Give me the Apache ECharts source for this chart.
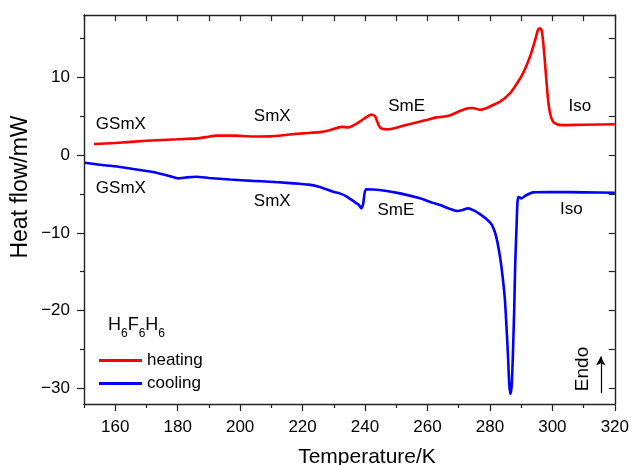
<!DOCTYPE html>
<html>
<head>
<meta charset="utf-8">
<script src="https://cdn.jsdelivr.net/npm/echarts@6/dist/echarts.min.js"></script>
<style>
  html, body { margin: 0; padding: 0; background: #fff; }
  #chart { width: 632px; height: 465px; }
</style>
</head>
<body>
<div id="chart"></div>
<script>
const FONT = "'Liberation Sans', Arial, Helvetica, sans-serif";

// DSC trace on heating (temperature in K, heat flow in mW)
const heatingT = [153.2, 160, 170, 180, 186, 189, 192.5, 198, 204, 209.5, 215, 220, 225.5, 228.7,
  232.5, 234.6, 238.3, 240.5, 242, 243.2, 244.2, 245, 247, 250, 254.4, 259.7, 262.9, 265, 267.5,
  270.4, 273, 274.5, 276.8, 279, 281, 283.2, 286.4, 288.5, 290.6, 292.8, 294.5, 295.4, 296.0,
  296.6, 297.3, 297.9, 298.6, 299.3, 300.2, 301.5, 303, 310, 320];
const heatingQ = [1.41, 1.55, 1.84, 2.02, 2.14, 2.3, 2.5, 2.5, 2.38, 2.4, 2.6, 2.79, 2.95, 3.2,
  3.62, 3.56, 4.28, 4.9, 5.2, 5.0, 4.0, 3.45, 3.3, 3.5, 4.0, 4.5, 4.84, 4.92, 5.15,
  5.65, 6.0, 6.05, 5.82, 6.05, 6.43, 6.85, 7.93, 9.1, 10.5, 12.6, 14.8, 16.1, 16.3,
  16.0, 13.5, 10.5, 7.2, 5.3, 4.3, 3.95, 3.85, 3.9, 3.95];

// DSC trace on cooling
const coolingT = [150.3, 155, 160, 165.8, 170, 173.5, 177, 180.2, 182.9, 186, 190, 196.7, 204, 209.5,
  215, 219.1, 222, 225.5, 229.8, 231.9, 234, 236.2, 238.0, 238.8, 239.4, 240.3, 244.7, 251.2,
  257.6, 261.8, 264, 267, 269.5, 271, 273, 275, 276.8, 278.8, 280.5, 281.5, 282.3, 283.2, 283.7,
  284.3, 284.8, 285.3, 285.8, 286.2, 286.6, 287.0, 287.4, 287.8, 288.1, 288.5, 288.8, 289.1,
  290.1, 291.5, 293.8, 300, 310, 320];
const coolingQ = [-0.99, -1.25, -1.45, -1.80, -2.05, -2.3, -2.65, -3.0, -2.87, -2.79, -2.95, -3.15, -3.32, -3.43,
  -3.58, -3.7, -3.8, -4.1, -4.71, -4.93, -5.3, -5.9, -6.4, -6.85, -6.3, -4.4, -4.5, -4.93,
  -5.57, -6.15, -6.43, -6.9, -7.2, -7.1, -6.85, -7.15, -7.6, -8.2, -8.9, -9.8, -11, -13, -14.4,
  -16.5, -18.6, -22, -25.9, -29.5, -30.7, -29.5, -25.1, -19.5, -14, -9.5, -6.2, -5.4,
  -5.57, -5.2, -4.8, -4.75, -4.8, -4.85];

// Phase names written beside the traces
const phaseNames = ['GSmX', 'SmX', 'SmE', 'Iso', 'GSmX', 'SmX', 'SmE', 'Iso'];
const phaseT = [161.8, 210.3, 253.3, 308.8, 161.8, 210.3, 249.9, 306.1];
const phaseQ = [3.95, 4.97, 6.26, 6.26, -4.3, -5.98, -7.1, -6.97];

// "Endo" direction marker: label position and arrow from / to
const endoT = 309.7;
const endoQ = -27.5;
const arrowT = 315.5;
const arrowFromQ = -30.6;
const arrowToQ = -25.9;

// Axis ticks
const xLabelTicks = [160, 180, 200, 220, 240, 260, 280, 300, 320];
const xMinorTicks = [150, 170, 190, 210, 230, 250, 270, 290, 310];
const xAllTicks = [150, 160, 170, 180, 190, 200, 210, 220, 230, 240, 250, 260, 270, 280, 290, 300, 310, 320];
const yLabelTicks = [-30, -20, -10, 0, 10];
const yMinorTicks = [-25, -15, -5, 5, 15];
const yAllTicks = [-30, -25, -20, -15, -10, -5, 0, 5, 10, 15];

const zip = (a, b) => a.map((t, i) => [t, b[i]]);
const minus = v => (v < 0 ? '\u2212' + Math.abs(v) : String(v));

const AX = '#222';
const axisLine = { show: true, onZero: false, lineStyle: { color: AX, width: 1.4 } };
const hiddenLine = { show: false, onZero: false };

const chart = echarts.init(document.getElementById('chart'));
chart.setOption({
  backgroundColor: '#fff',
  animation: false,
  textStyle: { fontFamily: FONT },
  grid: { left: 84, right: 17, top: 15, bottom: 61, containLabel: false },
  xAxis: [
    {
      type: 'value', min: 150, max: 320, position: 'bottom',
      axisLine: axisLine,
      axisTick: { show: true, customValues: xLabelTicks, length: 7, lineStyle: { color: AX, width: 1.2 } },
      axisLabel: { customValues: xLabelTicks, fontSize: 17, color: '#000', fontFamily: FONT, margin: 15 },
      splitLine: { show: false }
    },
    {
      type: 'value', min: 150, max: 320, position: 'bottom',
      axisLine: hiddenLine,
      axisTick: { show: true, customValues: xMinorTicks, length: 4, lineStyle: { color: AX, width: 1.2 } },
      axisLabel: { show: false },
      splitLine: { show: false }
    },
    {
      type: 'value', min: 150, max: 320, position: 'top',
      axisLine: axisLine,
      axisTick: { show: true, inside: true, customValues: xAllTicks, length: 6, lineStyle: { color: AX, width: 1.2 } },
      axisLabel: { show: false },
      splitLine: { show: false }
    }
  ],
  yAxis: [
    {
      type: 'value', min: -32, max: 18, position: 'left',
      axisLine: axisLine,
      axisTick: { show: true, customValues: yLabelTicks, length: 7, lineStyle: { color: AX, width: 1.2 } },
      axisLabel: { customValues: yLabelTicks, formatter: minus, fontSize: 17, color: '#000', fontFamily: FONT, margin: 14 },
      splitLine: { show: false }
    },
    {
      type: 'value', min: -32, max: 18, position: 'left',
      axisLine: hiddenLine,
      axisTick: { show: true, customValues: yMinorTicks, length: 4, lineStyle: { color: AX, width: 1.2 } },
      axisLabel: { show: false },
      splitLine: { show: false }
    },
    {
      type: 'value', min: -32, max: 18, position: 'right',
      axisLine: axisLine,
      axisTick: { show: true, inside: true, customValues: yAllTicks, length: 6, lineStyle: { color: AX, width: 1.2 } },
      axisLabel: { show: false },
      splitLine: { show: false }
    }
  ],
  legend: {
    data: ['heating', 'cooling'],
    orient: 'vertical', left: 99, top: 352,
    icon: 'rect', itemWidth: 43, itemHeight: 3, itemGap: 6, padding: 0,
    textStyle: { fontSize: 17, color: '#000', fontFamily: FONT, padding: [0, 0, 0, 0] }
  },
  graphic: [
    {
      type: 'text', x: 21, y: 187, rotation: Math.PI / 2,
      style: { text: 'Heat flow/mW', fontSize: 23, fontFamily: FONT, fill: '#000', align: 'center', verticalAlign: 'middle' }
    },
    {
      type: 'text', x: 367, y: 457,
      style: { text: 'Temperature/K', fontSize: 21, fontFamily: FONT, fill: '#000', align: 'center', verticalAlign: 'middle' }
    },
    {
      type: 'text', x: 108, y: 316,
      style: {
        text: '{m|H}{s|6}{m|F}{s|6}{m|H}{s|6}',
        fontFamily: FONT, fill: '#000', align: 'left', verticalAlign: 'top',
        rich: {
          m: { fontSize: 18, lineHeight: 18, verticalAlign: 'top', fontFamily: FONT, fill: '#000' },
          s: { fontSize: 12, lineHeight: 12, verticalAlign: 'top', padding: [12, 0, 0, 0], fontFamily: FONT, fill: '#000' }
        }
      }
    }
  ],
  series: [
    {
      name: 'heating', type: 'line', xAxisIndex: 0, yAxisIndex: 0,
      data: zip(heatingT, heatingQ), showSymbol: false, smooth: 0.2,
      itemStyle: { color: '#ff0000' },
      lineStyle: { color: '#ff0000', width: 2.6 }
    },
    {
      name: 'cooling', type: 'line', xAxisIndex: 0, yAxisIndex: 0,
      data: zip(coolingT, coolingQ), showSymbol: false, smooth: 0.2,
      itemStyle: { color: '#0000ff' },
      lineStyle: { color: '#0000ff', width: 2.6 },
      markLine: {
        silent: true, symbol: ['none', 'arrow'], symbolSize: [7, 9],
        lineStyle: { color: '#000', width: 1.2, type: 'solid' },
        label: { show: false },
        data: [[{ coord: [arrowT, arrowFromQ] }, { coord: [arrowT, arrowToQ] }]]
      }
    },
    {
      name: 'phases', type: 'scatter', xAxisIndex: 0, yAxisIndex: 0,
      symbolSize: 0, silent: true,
      itemStyle: { opacity: 1 },
      data: phaseNames.map((n, i) => ({ name: n, value: [phaseT[i], phaseQ[i]] })),
      label: {
        show: true, position: 'inside', formatter: p => p.name,
        fontSize: 17, color: '#000', fontFamily: FONT
      }
    },
    {
      name: 'endo', type: 'scatter', xAxisIndex: 0, yAxisIndex: 0,
      symbolSize: 0, silent: true,
      itemStyle: { opacity: 1 },
      data: [{ name: 'Endo', value: [endoT, endoQ] }],
      label: {
        show: true, position: 'inside', rotate: 90, formatter: p => p.name,
        fontSize: 19, color: '#000', fontFamily: FONT
      }
    }
  ]
});
</script>
</body>
</html>
